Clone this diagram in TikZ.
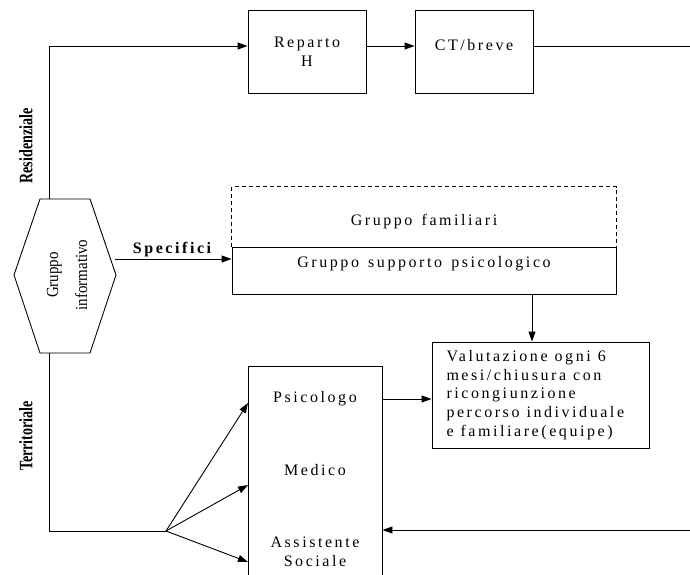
\documentclass[tikz,border=0pt]{standalone}
\usepackage{fontspec}
\setmainfont{Liberation Serif}[LetterSpace=16, WordSpace=1.4]
\newfontfamily\condfont{Liberation Serif}
\usetikzlibrary{arrows.meta}

\begin{document}
\begin{tikzpicture}[x=1pt, y=-1pt, line width=.9pt,
    font=\fontsize{16}{18.75}\selectfont,
    >={Triangle[length=10pt,width=7pt]},
    sidelabel/.style={rotate=90, xscale=.74,
      font=\condfont\bfseries\fontsize{19}{19}\selectfont}]

        \useasboundingbox (0,0) rectangle (690,574);
        \clip (0,0) rectangle (690,574);

        % boxes
        \begin{scope}[every node/.style={draw, rectangle, align=center}]
          \node[minimum width=118, minimum height=83] (reparto) at (307,51.5) {Reparto\\H};
          \node[minimum width=118, minimum height=83, text depth=14pt] (ct) at (474,51.5) {CT/breve};
          \node[minimum width=384, minimum height=47, text depth=17pt] (supp) at (424,270.5)
            {Gruppo supporto psicologico};
          \node[minimum width=217, minimum height=106, text width=188, align=left] (valut) at (540.5,395)
            {\spaceskip=7pt Valutazione ogni 6\\mesi/chiusura con\\ricongiunzione\\percorso individuale\\e familiare(equipe)};
          \node[minimum width=134, minimum height=240] (staff)  at (315,486) {};
        \end{scope}

        \draw[dashed, dash pattern=on 4pt off 3pt] (supp.north west) -- ++(0,-60) -| (supp.north east);
        \node (fam) at (424,222) {Gruppo familiari};

        \node (psic)   at (315,399) {Psicologo};
        \node (medico) at (315,470) {Medico};
        \node[align=center] (assist) at (315,552) {Assistente\\Sociale};

        % hexagon
        \draw (40,199) -- (90,199) -- (116,275) -- (90,353)
          -- (40,353) -- (14,275) -- cycle;
        \coordinate (top)  at (49,46);
        \coordinate (hexT) at (49,199);
        \coordinate (hexB) at (49,353);
        \coordinate (spec) at (115,259);
        \node[rotate=90, xscale=.88, align=center,
          font=\condfont\fontsize{17}{29}\selectfont] (info) at (67,275) {Gruppo\\informativo};

        \node[sidelabel] (res)  at (26,146) {Residenziale};
        \node[sidelabel] (terr) at (26,436) {Territoriale};

        \coordinate (fan) at (166,531);
        \coordinate (s1)  at (248,403);
        \coordinate (s2)  at (248,485);
        \coordinate (s3)  at (248,562);
        \coordinate (out) at (690,46);
        \coordinate (ret) at (690,530);

        \begin{scope}[every edge/.style={draw, ->}]
          \path (top)  edge (top -| reparto.west);
          \path (top -| reparto.east) edge (top -| ct.west);
          \path (spec) edge node[above, inner sep=2pt] {\textbf{Specifici}} (spec -| supp.west);
          \path (supp.south -| 532,0) edge (valut.north -| 532,0);
          \path (psic -| staff.east) edge (psic -| valut.west);
          \path (fan)  edge (s1);
          \path (fan)  edge (s2);
          \path (fan)  edge (s3);
          \path (ret)  edge (ret -| staff.east);
        \end{scope}

        \draw (hexT) -- (top);
        \draw (top -| ct.east) -- (out);
        \draw (hexB) |- (fan);

      \end{tikzpicture}
\end{document}
